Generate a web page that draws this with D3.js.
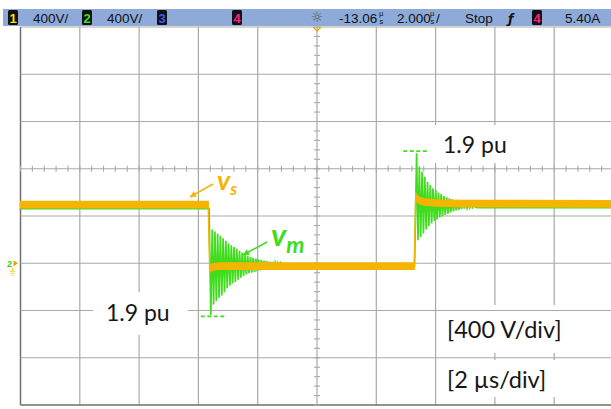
<!DOCTYPE html>
<html><head><meta charset="utf-8">
<script src="https://cdn.jsdelivr.net/npm/d3@7"></script>
<style>body{margin:0;background:#fff}svg{display:block}</style>
</head><body><svg id="c" width="611" height="409"></svg>
<script>
// Screen scales: 2 µs/div horizontally, 400 V/div vertically (channel 2 ground at 0 V)
const timeDomain = [-10, 10];
const voltDomain = [-1200, 2000];
const timeGrid = [-10, -8, -6, -4, -2, 0, 2, 4, 6, 8, 10];
const voltGrid = [-1200, -800, -400, 0, 400, 800, 1200, 1600, 2000];

// Source voltage vs (µs, V)
const vsTrace = [[-10, 497], [-3.67, 497], [-3.62, -50], [-3.55, -36], [-3.45, -28], [-3.3, -24],
  [3.28, -24], [3.33, 565], [3.42, 535], [3.6, 520], [4.0, 510], [5.0, 505], [10, 503]];

// Motor-terminal voltage vm (µs, V): ringing after each switching edge
const vmTrace = [[-10, 462], [-3.64, 462],
  [-3.580, -440], [-3.534, 285], [-3.488, -350], [-3.442, 268], [-3.396, -320], [-3.350, 250],
  [-3.304, -295], [-3.258, 232], [-3.212, -272], [-3.166, 212], [-3.120, -245], [-3.074, 190],
  [-3.028, -212], [-2.982, 170], [-2.936, -190], [-2.890, 152], [-2.844, -172], [-2.798, 137],
  [-2.752, -158], [-2.706, 122], [-2.660, -140], [-2.614, 105], [-2.568, -122], [-2.522, 90],
  [-2.476, -108], [-2.430, 75], [-2.384, -95], [-2.338, 62], [-2.292, -85], [-2.246, 52],
  [-2.200, -80], [-2.154, 46], [-2.108, -74], [-2.062, 40], [-2.016, -68], [-1.970, 33],
  [-1.924, -60], [-1.878, 27], [-1.832, -55], [-1.786, 22], [-1.740, -50], [-1.694, 18],
  [-1.648, -46], [-1.602, 14], [-1.556, -42], [-1.510, 10], [-1.464, -38], [-1.418, 7],
  [-1.372, -35], [-1.326, 4], [-1.280, -32], [-1.234, 2], [-1.188, -30], [-1.142, -15],
  [3.29, -25],
  [3.360, 931], [3.406, 195], [3.452, 818], [3.498, 223], [3.544, 775], [3.590, 252],
  [3.636, 733], [3.682, 286], [3.728, 690], [3.774, 314], [3.820, 662], [3.866, 337],
  [3.912, 634], [3.958, 357], [4.004, 620], [4.050, 371], [4.096, 599], [4.142, 388],
  [4.188, 586], [4.234, 399], [4.280, 569], [4.326, 410], [4.372, 558], [4.418, 420],
  [4.464, 549], [4.510, 430], [4.556, 540], [4.602, 440], [4.648, 532], [4.694, 447],
  [4.740, 525], [4.786, 453], [4.832, 520], [4.878, 458], [4.924, 515], [4.970, 462],
  [5.016, 512], [5.062, 466], [5.108, 508], [5.154, 470], [5.200, 505], [5.246, 473],
  [5.292, 502], [5.338, 476], [5.40, 470], [10, 470]];

// Peak markers (1.9 pu) and their labels
const peakMarks = [
  {t0: -3.92, t1: -3.07, v: -450, label: "1.9 pu", lt: -7.12, lv: -485},
  {t0: 2.91, t1: 3.75, v: 950, label: "1.9 pu", lt: 4.25, lv: 935}
];

const headerChannels = [
  {x: 8, n: "1", c: "#f2e600", scale: "400V/"},
  {x: 82, n: "2", c: "#35e02a", scale: "400V/"},
  {x: 157, n: "3", c: "#3a5cff", scale: ""},
  {x: 232, n: "4", c: "#ff1f86", scale: ""}
];

const W = 611, H = 409;
const svg = d3.select("#c");
const x = d3.scaleLinear().domain(timeDomain).range([20.5, 613.5]);
const y = d3.scaleLinear().domain(voltDomain).range([405, 27]);

const gridCol = "#a9a9a9";
const yellow = "#f5b400", green = "#41dc1e";
const textFont = "Lato, 'Open Sans', sans-serif";

// vertical grid lines
svg.append("g").selectAll("line").data(timeGrid).join("line")
  .attr("x1", d => x(d)).attr("x2", d => x(d)).attr("y1", y(2000)).attr("y2", y(-1200))
  .attr("stroke", d => d === -10 ? "#6f6f6f" : gridCol).attr("stroke-width", d => d === -10 ? 1.5 : 1.2);

// scale annotation boxes (white, over the vertical lines)
const scaleBoxes = [{y0: 305, y1: 353, text: "[400 V/div]", base: 338}, {y0: 360, y1: 397, text: "[2 µs/div]", base: 388}];
svg.append("g").selectAll("rect").data(scaleBoxes).join("rect")
  .attr("x", 439).attr("y", d => d.y0).attr("width", W - 439).attr("height", d => d.y1 - d.y0).attr("fill", "#fff");

// horizontal grid lines
svg.append("g").selectAll("line").data(voltGrid).join("line")
  .attr("x1", x(-10)).attr("x2", W).attr("y1", d => y(d)).attr("y2", d => y(d))
  .attr("stroke", d => d === -1200 ? "#6f6f6f" : gridCol).attr("stroke-width", d => d === -1200 ? 1.5 : 1.2);

// minor ticks on the centre axes
const tMinor = d3.range(-10, 10.001, 0.4);
const vMinor = d3.range(-1200, 2000.1, 80);
svg.append("g").selectAll("line").data(tMinor).join("line")
  .attr("x1", d => x(d)).attr("x2", d => x(d)).attr("y1", y(800) - 3).attr("y2", y(800) + 3)
  .attr("stroke", gridCol).attr("stroke-width", 1.1);
svg.append("g").selectAll("line").data(vMinor).join("line")
  .attr("x1", x(0) - 3).attr("x2", x(0) + 3).attr("y1", d => y(d)).attr("y2", d => y(d))
  .attr("stroke", gridCol).attr("stroke-width", 1.1);

// label boxes for 1.9 pu text
const puBoxes = [{x0: 93, x1: 188, y0: 292, y1: 335}, {x0: 430, x1: 522, y0: 125, y1: 163}];
svg.append("g").selectAll("rect").data(puBoxes).join("rect")
  .attr("x", d => d.x0).attr("y", d => d.y0).attr("width", d => d.x1 - d.x0).attr("height", d => d.y1 - d.y0).attr("fill", "#fff");

// traces: vm as a thin line, vs as a narrow noise band around its level
const line = d3.line().x(d => x(d[0])).y(d => y(d[1]));
svg.append("path").attr("d", line(vmTrace)).attr("fill", "none").attr("stroke", green).attr("stroke-width", 1.7);
const band = d3.area().x(d => x(d[0])).y0(d => y(d[1]) + 3.2).y1(d => y(d[1]) - 3.2);
svg.append("path").attr("d", band(vsTrace)).attr("fill", yellow).attr("stroke", yellow).attr("stroke-width", 1.3);

// 1.9 pu dashed markers and labels
svg.append("g").selectAll("line").data(peakMarks).join("line")
  .attr("x1", d => x(d.t0)).attr("x2", d => x(d.t1)).attr("y1", d => y(d.v)).attr("y2", d => y(d.v))
  .attr("stroke", green).attr("stroke-width", 1.8).attr("stroke-dasharray", "4,2.5");
svg.append("g").selectAll("text").data(peakMarks).join("text")
  .attr("x", d => x(d.lt)).attr("y", d => y(d.lv))
  .attr("font-family", textFont).attr("font-size", 23).attr("fill", "#161616")
  .text(d => d.label);

// scale annotations
svg.append("g").selectAll("text").data(scaleBoxes).join("text")
  .attr("x", 447).attr("y", d => d.base)
  .attr("font-family", textFont).attr("font-size", 23.5).attr("fill", "#161616")
  .text(d => d.text);

// trace labels with arrows
function label(txt, sub, lx, ly, col, fs, sfs, ax1, ay1, ax2, ay2) {
  const t = svg.append("text").attr("x", lx).attr("y", ly)
    .attr("font-family", textFont).attr("font-weight", "bold").attr("font-style", "italic")
    .attr("fill", col).attr("font-size", fs);
  t.append("tspan").text(txt);
  t.append("tspan").attr("font-size", sfs).attr("dy", sfs * 0.3).text(sub);
  svg.append("line").attr("x1", ax1).attr("y1", ay1).attr("x2", ax2).attr("y2", ay2)
    .attr("stroke", col).attr("stroke-width", 1.5);
  const ang = Math.atan2(ay2 - ay1, ax2 - ax1);
  const L = 6, Wd = 3.2;
  const p = [[ax2, ay2],
    [ax2 - L * Math.cos(ang) + Wd * Math.sin(ang), ay2 - L * Math.sin(ang) - Wd * Math.cos(ang)],
    [ax2 - L * Math.cos(ang) - Wd * Math.sin(ang), ay2 - L * Math.sin(ang) + Wd * Math.cos(ang)]];
  svg.append("path").attr("d", "M" + p.join("L") + "Z").attr("fill", col);
}
label("v", "s", 217, 190, yellow, 27, 17, 213, 184, 190, 197);
label("v", "m", 271, 246, green, 31, 23, 267, 242, 243, 255);

// header bar
svg.append("rect").attr("x", 3).attr("y", 9).attr("width", W - 3).attr("height", 17).attr("fill", "#8eaad9");
const hdrFont = "'Liberation Sans', Arial, sans-serif";
const hdrSize = 13.5;
const ch = svg.append("g").selectAll("g").data(headerChannels).join("g");
ch.append("rect").attr("x", d => d.x).attr("y", 10).attr("width", 10).attr("height", 15).attr("rx", 1.5).attr("fill", "#111");
ch.append("text").attr("x", d => d.x + 5).attr("y", 22.5).attr("text-anchor", "middle")
  .attr("font-family", hdrFont).attr("font-size", 13).attr("font-weight", "bold").attr("fill", d => d.c).text(d => d.n);
ch.append("text").attr("x", d => d.x + 25).attr("y", 22.5)
  .attr("font-family", hdrFont).attr("font-size", hdrSize).attr("fill", "#111").text(d => d.scale);

function htext(tx, xx) {
  return svg.append("text").attr("x", xx).attr("y", 22.5)
    .attr("font-family", hdrFont).attr("font-size", hdrSize).attr("fill", "#111").text(tx);
}
function usStack(xx) {
  svg.append("text").attr("x", xx).attr("y", 16).attr("font-family", hdrFont).attr("font-size", 7.5).attr("fill", "#111").text("µ");
  svg.append("text").attr("x", xx + 0.5).attr("y", 23.5).attr("font-family", hdrFont).attr("font-size", 7.5).attr("fill", "#111").text("s");
}
// acquisition sun icon
svg.append("text").attr("x", 317).attr("y", 22).attr("text-anchor", "middle")
  .attr("font-family", "'DejaVu Sans', sans-serif").attr("font-size", 14).attr("fill", "#555").text("☼");
htext("-13.06", 339); usStack(379);
htext("2.000", 397); usStack(430); htext("/", 436);
htext("Stop", 465);
svg.append("text").attr("x", 508).attr("y", 22.5).attr("font-family", "'DejaVu Sans', sans-serif")
  .attr("font-size", 12.5).attr("font-weight", "bold").attr("font-style", "italic").attr("fill", "#111").text("ƒ");
svg.append("rect").attr("x", 532).attr("y", 10).attr("width", 10).attr("height", 15).attr("rx", 1.5).attr("fill", "#111");
svg.append("text").attr("x", 537).attr("y", 22.5).attr("text-anchor", "middle").attr("font-family", hdrFont)
  .attr("font-size", 13).attr("font-weight", "bold").attr("fill", "#ff1f86").text("4");
htext("5.40A", 565);

// trigger position marker
svg.append("path").attr("d", `M${x(0) - 4},27 L${x(0)},31 L${x(0) + 4},27`).attr("fill", "none").attr("stroke", "#f0a000").attr("stroke-width", 1.2);

// channel 2 ground reference marker
svg.append("text").attr("x", 7).attr("y", y(0) + 4).attr("font-family", hdrFont).attr("font-size", 9)
  .attr("font-weight", "bold").attr("fill", "#3ccc20").text("2");
svg.append("path").attr("d", `M13.5,${y(0) - 3}L18,${y(0)}L13.5,${y(0) + 3}Z`).attr("fill", "#f0a000");
const gy = y(0) + 6;
svg.append("path").attr("d", `M12.5,${gy - 2}V${gy + 2}M9.5,${gy + 2}H15.5M10.5,${gy + 4}H14.5M11.5,${gy + 6}H13.5`)
  .attr("stroke", "#f2d040").attr("stroke-width", 1).attr("fill", "none");
</script></body></html>
